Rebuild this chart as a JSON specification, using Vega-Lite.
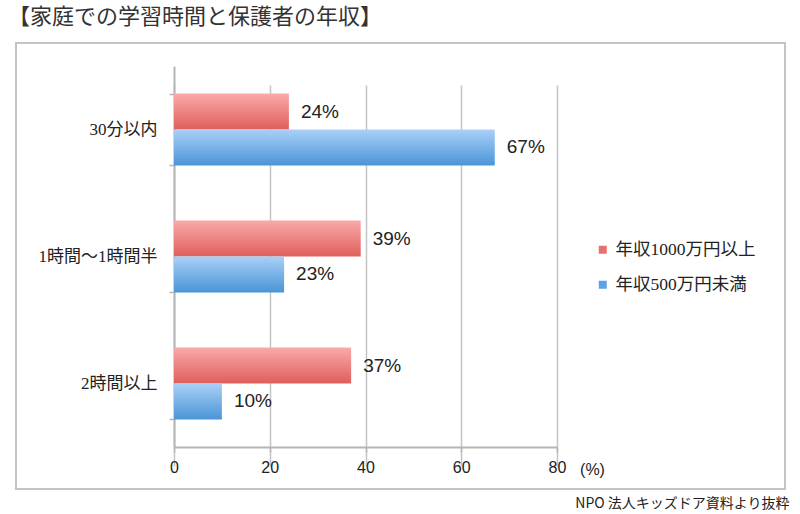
{
  "$schema": "https://vega.github.io/schema/vega-lite/v6.json",
  "width": 769,
  "height": 446,
  "autosize": {"type": "none"},
  "padding": {"left": 16, "top": 43, "right": 15, "bottom": 25},
  "background": "white",
  "view": {"stroke": "#c3c3c3", "strokeWidth": 2},
  "title": {
    "text": "【家庭での学習時間と保護者の年収】",
    "anchor": "start",
    "frame": "group",
    "dx": -8,
    "offset": 5,
    "fontSize": 22,
    "font": "Noto Sans CJK JP",
    "fontWeight": "normal",
    "color": "#333333"
  },
  "data": {
    "values": [
      {"category": "30分以内", "series": "年収1000万円以上", "value": 24, "label": "24%"},
      {"category": "30分以内", "series": "年収500万円未満", "value": 67, "label": "67%"},
      {"category": "1時間〜1時間半", "series": "年収1000万円以上", "value": 39, "label": "39%"},
      {"category": "1時間〜1時間半", "series": "年収500万円未満", "value": 23, "label": "23%"},
      {"category": "2時間以上", "series": "年収1000万円以上", "value": 37, "label": "37%"},
      {"category": "2時間以上", "series": "年収500万円未満", "value": 10, "label": "10%"}
    ]
  },
  "encoding": {
    "y": {
      "field": "category",
      "type": "nominal",
      "sort": ["30分以内", "1時間〜1時間半", "2時間以上"],
      "scale": {"range": [23, 404], "paddingInner": 0.435, "paddingOuter": 0.2175},
      "axis": {
        "title": null,
        "offset": -158,
        "grid": false,
        "domainColor": "#b5b5b5",
        "domainWidth": 2,
        "tickColor": "#b5b5b5",
        "tickWidth": 1.5,
        "tickSize": 5,
        "tickBand": "extent",
        "labelFont": "'Liberation Serif', 'Noto Sans CJK JP'",
        "labelFontSize": 17,
        "labelColor": "#222222",
        "labelPadding": 12
      }
    },
    "yOffset": {
      "field": "series",
      "type": "nominal",
      "sort": ["年収1000万円以上", "年収500万円未満"],
      "scale": {"paddingInner": 0, "paddingOuter": 0}
    }
  },
  "layer": [
    {
      "mark": {"type": "square", "opacity": 0},
      "encoding": {
        "x": {
          "field": "value",
          "type": "quantitative",
          "scale": {"domain": [0, 80], "range": [158, 541], "nice": false},
          "axis": null
        },
        "color": {
          "field": "series",
          "type": "nominal",
          "sort": ["年収1000万円以上", "年収500万円未満"],
          "scale": {"domain": ["年収1000万円以上", "年収500万円未満"], "range": ["#e8706e", "#5da2e2"]},
          "legend": {
            "orient": "none",
            "legendX": 578,
            "legendY": 198,
            "title": null,
            "padding": 0,
            "symbolType": "square",
            "symbolSize": 64,
            "symbolOpacity": 1,
            "symbolStrokeWidth": 0,
            "labelFont": "'Liberation Serif', 'Noto Sans CJK JP'",
            "labelFontSize": 17.5,
            "labelColor": "#222222",
            "labelOffset": 4,
            "rowPadding": 16
          }
        }
      }
    },
    {
      "mark": {"type": "bar"},
      "encoding": {
        "x": {
          "field": "value",
          "type": "quantitative",
          "scale": {"domain": [0, 80], "range": [158, 541], "nice": false},
          "axis": {
            "orient": "bottom",
            "offset": -42,
            "values": [0, 20, 40, 60, 80],
            "grid": true,
            "gridColor": "#c4c4c4",
            "gridWidth": 1.5,
            "domainColor": "#b5b5b5",
            "domainWidth": 2,
            "tickColor": "#b5b5b5",
            "tickWidth": 1.5,
            "tickSize": 5,
            "labelFont": "Liberation Sans",
            "labelFontSize": 16,
            "labelColor": "#222222",
            "labelPadding": 7,
            "labelFlush": false,
            "labelOverlap": false,
            "title": "(%)",
            "titleFont": "Liberation Sans",
            "titleFontSize": 16,
            "titleFontWeight": "normal",
            "titleColor": "#222222",
            "titleX": 576,
            "titleY": 22,
            "titleAlign": "center",
            "titleBaseline": "middle",
            "titleAnchor": null
          }
        },
        "fill": {
          "condition": {
            "test": "datum.series === '年収1000万円以上'",
            "value": {
              "gradient": "linear", "x1": 0, "y1": 0, "x2": 0, "y2": 1,
              "stops": [{"offset": 0, "color": "#f9aaa9"}, {"offset": 1, "color": "#e05e5b"}]
            }
          },
          "value": {
            "gradient": "linear", "x1": 0, "y1": 0, "x2": 0, "y2": 1,
            "stops": [{"offset": 0, "color": "#a9d0f7"}, {"offset": 1, "color": "#4a95d7"}]
          }
        }
      }
    },
    {
      "mark": {"type": "text", "align": "left", "baseline": "middle", "dx": 12, "font": "Liberation Sans", "fontSize": 19, "color": "#222222"},
      "encoding": {
        "x": {
          "field": "value",
          "type": "quantitative",
          "scale": {"domain": [0, 80], "range": [158, 541], "nice": false},
          "axis": {
            "orient": "bottom",
            "offset": 0,
            "domain": false,
            "ticks": false,
            "labels": false,
            "grid": false,
            "title": "NPO 法人キッズドア資料より抜粋",
            "titleX": 773,
            "titleY": 14,
            "titleAlign": "right",
            "titleBaseline": "middle",
            "titleAnchor": null,
            "titleFont": "Noto Sans CJK JP",
            "titleFontSize": 14,
            "titleFontWeight": "normal",
            "titleColor": "#222222"
          }
        },
        "text": {"field": "label"}
      }
    }
  ],
  "resolve": {"axis": {"x": "independent"}}
}
